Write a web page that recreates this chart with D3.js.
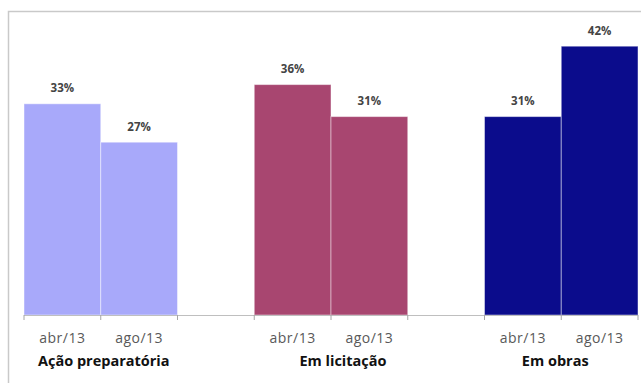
<!DOCTYPE html>
<html><head><meta charset="utf-8">
<script src="https://cdn.jsdelivr.net/npm/d3@7"></script>
<style>body{margin:0;background:#fff;}svg{display:block;}</style>
</head><body>
<svg id="chart" width="641" height="383"></svg>
<script>
const groups = ["Ação preparatória", "Em licitação", "Em obras"];
const periods = ["abr/13", "ago/13"];
const values = {
  "Ação preparatória": [33, 27],
  "Em licitação": [36, 31],
  "Em obras": [31, 42]
};
const colors = ["#a8a9fa", "#a84670", "#0b0c8c"];

const svg = d3.select("#chart");
const baseY = 315;
const groupLabelNudge = [3, 12, -6]; // layout tweak for group label placement

// slots: each group has 2 bars, plus an empty gap slot between groups
const slots = [];
groups.forEach((g, gi) => {
  periods.forEach(p => slots.push(g + "|" + p));
  if (gi < groups.length - 1) slots.push("gap" + gi);
});

const x = d3.scaleBand().domain(slots).range([24, 638]).padding(0);
const y = d3.scaleLinear().domain([0, 45]).range([baseY, baseY - 45 * 6.4]);

// outer frame (only top/left visible)
svg.append("rect").attr("x", 8.5).attr("y", 11.5).attr("width", 700).attr("height", 400)
  .attr("fill", "none").attr("stroke", "#c9c9c9").attr("stroke-width", 1.5);

const data = [];
groups.forEach((g, gi) => periods.forEach((p, pi) => data.push({g, gi, p, v: values[g][pi], key: g + "|" + p})));

svg.selectAll("rect.bar").data(data).enter().append("rect")
  .attr("class", "bar")
  .attr("x", d => x(d.key))
  .attr("y", d => y(d.v))
  .attr("width", x.bandwidth())
  .attr("height", d => baseY - y(d.v))
  .attr("fill", d => colors[d.gi])
  .attr("stroke", "#ffffff").attr("stroke-opacity", 0.45).attr("stroke-width", 1);

// axis line and ticks
svg.append("line").attr("x1", 24).attr("x2", 638).attr("y1", baseY + 0.5).attr("y2", baseY + 0.5)
  .attr("stroke", "#bfbfbf").attr("stroke-width", 1);
const tickXs = [];
slots.forEach(s => tickXs.push(x(s)));
tickXs.push(x(slots[slots.length - 1]) + x.bandwidth());
svg.selectAll("line.tick").data(tickXs).enter().append("line")
  .attr("x1", d => d).attr("x2", d => d).attr("y1", baseY).attr("y2", baseY + 5)
  .attr("stroke", "#a6a6a6").attr("stroke-width", 1);

// value labels
svg.selectAll("text.val").data(data).enter().append("text")
  .attr("x", d => x(d.key) + x.bandwidth() / 2)
  .attr("y", d => y(d.v) - 11.5)
  .attr("text-anchor", "middle")
  .attr("font-family", "Open Sans, sans-serif").attr("font-weight", 700)
  .attr("font-size", 11.5).attr("fill", "#444")
  .text(d => d.v + "%");

// period labels
svg.selectAll("text.per").data(data).enter().append("text")
  .attr("x", d => x(d.key) + x.bandwidth() / 2)
  .attr("y", 343)
  .attr("text-anchor", "middle")
  .attr("font-family", "Open Sans, sans-serif")
  .attr("font-size", 14).attr("letter-spacing", 0.5).attr("fill", "#595959")
  .text(d => d.p);

// group labels
svg.selectAll("text.grp").data(groups).enter().append("text")
  .attr("x", (g, i) => (x(g + "|" + periods[0]) + x(g + "|" + periods[1]) + x.bandwidth()) / 2 + groupLabelNudge[i])
  .attr("y", 366)
  .attr("text-anchor", "middle")
  .attr("font-family", "Open Sans, sans-serif").attr("font-weight", "bold")
  .attr("font-size", 14.5).attr("fill", "#111")
  .text(g => g);
</script>
</body></html>
